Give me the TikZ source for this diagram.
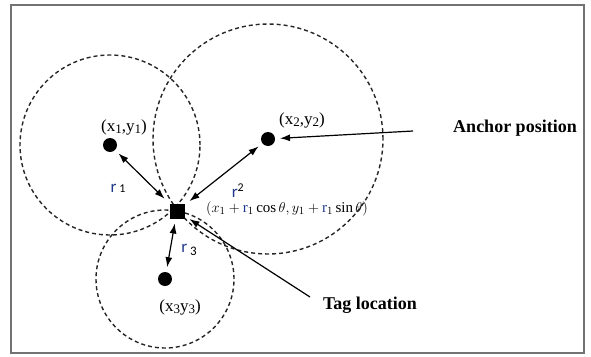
\documentclass[tikz,border=0pt]{standalone}
\usepackage{fontspec}
\setmainfont{Liberation Serif}
\newfontfamily\rfont{Carlito}
\usetikzlibrary{arrows.meta,backgrounds}
\definecolor{rblue}{rgb}{0.12,0.22,0.55}
\newcommand\lowdig[1]{\raisebox{-2.5pt}{\fontsize{13}{13}\selectfont #1}}
\begin{document}
\begin{tikzpicture}[x=1pt,y=-1pt,
  ring/.style={dashed,dash pattern=on 4pt off 3pt,line width=1.4pt,black!85},
  dot/.style={circle,fill=black,inner sep=0pt,minimum size=14pt,outer sep=5pt},
  tagbox/.style={rectangle,fill=black,inner sep=0pt,minimum size=15pt,outer sep=5pt},
  arr/.style={line width=1.2pt,-{Latex[length=10pt,width=7pt]}},
  darr/.style={line width=1.2pt,{Latex[length=10pt,width=7pt]}-{Latex[length=10pt,width=7pt]}},
  coord/.style={font=\fontsize{17}{19}\selectfont},
  rlab/.style={font=\rfont\fontsize{17}{19}\selectfont},
  bigtxt/.style={font=\bfseries\fontsize{18}{20}\selectfont}]
\useasboundingbox (0,0) rectangle (591,356);
\draw[black!55,line width=1.5pt] (11,5) rectangle (584,353);
% anchors and tag
\node[dot] (p1) at (110,145) {};
\node[dot] (p2) at (268,139) {};
\node[dot] (p3) at (165,279) {};
\node[tagbox] (tag) at (177,211) {};
% ranges
\begin{scope}[on background layer]
\draw[ring] (p1.center) circle (90pt);
\draw[ring] (p2.center) circle (115pt);
\draw[ring] (p3.center) circle (69pt);
\end{scope}
\draw[darr] (p1) -- (tag);
\draw[darr] (tag) -- (p2);
\draw[darr] (tag) -- (p3);
% labels
\node[coord] (l1) at (124,127) {(x\lowdig{1},y\lowdig{1})};
\node[coord] (l2) at (302,120) {(x\lowdig{2},y\lowdig{2})};
\node[coord] (l3) at (180,307) {(x\lowdig{3}y\lowdig{3})};
\node[rlab] (r1) at (118,188) {\textcolor{rblue}{r}\,{\fontsize{12}{12}\selectfont 1}};
\node[rlab] (r2) at (238,191) {\textcolor{rblue}{r}\textsuperscript{2}};
\node[rlab] (r3) at (189,250) {\textcolor{rblue}{r}\,\lowdig{3}};
\node[font=\fontsize{15}{17}\selectfont] (pos) at (287,209)
  {$(x_1+\textcolor{rblue}{\mathrm{r}}_1\cos\theta, y_1+\textcolor{rblue}{\mathrm{r}}_1\sin\theta)$};
% callouts
\node[bigtxt] (anchor) at (515,128) {Anchor position};
\node[bigtxt] (taglbl) at (370,305) {Tag location};
\coordinate (atail) at (413,131);
\coordinate (ttail) at (310,297);
\draw[arr] (atail) -- (p2);
\draw[arr] (ttail) -- (tag);
\end{tikzpicture}
\end{document}
